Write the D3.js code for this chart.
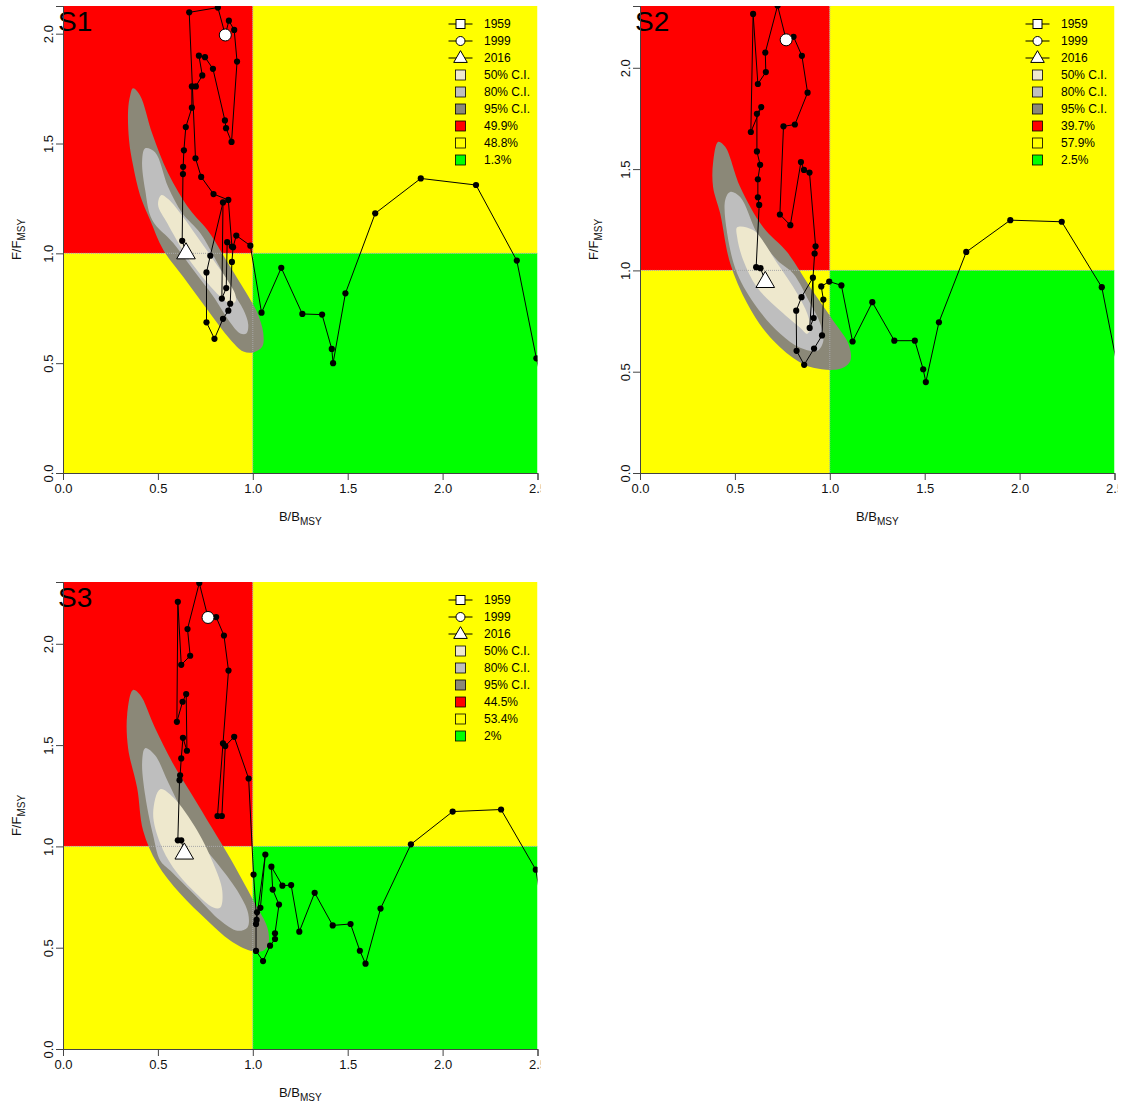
<!DOCTYPE html>
<html>
<head>
<meta charset="utf-8">
<script src="https://cdn.jsdelivr.net/npm/d3@7"></script>
<style>
  body { margin: 0; background: #ffffff; }
  svg { display: block; }
</style>
</head>
<body>
<svg id="chart" width="1121" height="1108"></svg>
<script>
// ---- Kobe phase plots: B/Bmsy vs F/Fmsy for three scenarios ----

const scenarioNames = ["S1", "S2", "S3"];
const xTicks = [0, 0.5, 1, 1.5, 2, 2.5];
const yTicks = [0, 0.5, 1, 1.5, 2];
const xMax = 2.5;
const yMaxes = [2.126, 2.305, 2.305];

const legendYears = ["1959", "1999", "2016"];
const ciLabels = ["50% C.I.", "80% C.I.", "95% C.I."];
const pctS1 = ["49.9%", "48.8%", "1.3%"];
const pctS2 = ["39.7%", "57.9%", "2.5%"];
const pctS3 = ["44.5%", "53.4%", "2%"];

// Trajectories [B/Bmsy, F/Fmsy], first point 1959, last point 2016
const trajS1 = [
  [2.61,0.116],[2.494,0.522],[2.391,0.967],[2.176,1.311],[1.885,1.341],[1.645,1.182],[1.488,0.818],
  [1.423,0.500],[1.416,0.565],[1.365,0.721],[1.261,0.724],[1.150,0.934],[1.046,0.730],[0.987,1.035],
  [0.913,1.081],[0.896,1.028],[0.890,0.961],[0.881,0.771],[0.871,0.739],[0.843,0.702],[0.798,0.611],
  [0.756,0.686],[0.756,0.913],[0.776,0.989],[0.843,1.232],[0.837,0.794],[0.860,0.842],[0.865,1.051],
  [0.890,1.031],[0.871,1.243],[0.793,1.270],[0.728,1.348],[0.698,1.433],[0.665,2.097],[0.816,2.119],
  [0.855,1.994],
  [0.874,2.059],[0.902,2.017],[0.917,1.873],[0.888,1.507],[0.859,1.570],[0.853,1.605],[0.790,1.840],
  [0.748,1.893],[0.716,1.900],[0.734,1.810],[0.700,1.760],[0.679,1.760],[0.679,1.663],[0.647,1.575],
  [0.637,1.469],[0.633,1.394],[0.632,1.361],[0.628,1.057],[0.648,1.004]
];
const trajS2 = [
  [2.59,0.17],[2.433,0.917],[2.222,1.240],[1.951,1.248],[1.719,1.091],[1.575,0.744],[1.506,0.449],
  [1.492,0.512],[1.448,0.653],[1.340,0.653],[1.224,0.843],[1.120,0.649],[1.061,0.926],[0.997,0.945],
  [0.955,0.921],[0.966,0.856],[0.959,0.679],[0.917,0.614],[0.865,0.534],[0.825,0.603],[0.823,0.801],
  [0.851,0.868],[0.911,0.964],[0.915,0.765],[0.894,0.716],[0.920,1.083],[0.925,1.119],[0.893,1.483],
  [0.864,1.496],[0.848,1.535],[0.792,1.223],[0.737,1.276],[0.756,1.711],[0.816,1.720],[0.883,1.877],
  [0.853,2.059],[0.809,2.153],
  [0.770,2.138],
  [0.725,2.307],[0.660,2.075],[0.663,1.979],[0.621,1.920],[0.596,2.266],[0.584,1.683],[0.639,1.806],
  [0.616,1.773],[0.616,1.587],[0.633,1.521],[0.621,1.450],[0.621,1.361],[0.628,1.323],[0.612,1.016],
  [0.635,1.011],[0.660,0.947]
];
const trajS3 = [
  [2.62,0.17],[2.491,0.885],[2.308,1.182],[2.053,1.172],[1.833,1.010],[1.673,0.693],[1.594,0.421],
  [1.564,0.485],[1.515,0.617],[1.421,0.610],[1.326,0.771],[1.245,0.579],[1.202,0.809],[1.156,0.806],
  [1.098,0.900],[1.105,0.787],[1.138,0.713],[1.117,0.571],[1.117,0.543],[1.091,0.510],[1.054,0.434],
  [1.017,0.484],[1.017,0.617],[1.066,0.960],[1.040,0.697],[1.022,0.675],[1.020,0.637],[1.004,0.861],
  [0.978,1.335],[0.902,1.541],[0.855,1.495],[0.837,1.150],[0.814,1.150],[0.843,1.508],[0.872,1.868],
  [0.848,2.041],[0.807,2.132],
  [0.764,2.130],
  [0.718,2.300],[0.656,2.073],[0.670,1.941],[0.623,1.896],[0.605,2.207],[0.600,1.615],[0.630,1.714],
  [0.649,1.752],[0.653,1.472],[0.632,1.536],[0.623,1.434],[0.617,1.351],[0.614,1.327],[0.605,1.030],
  [0.623,1.030],[0.639,0.969]
];
// position of the 1999 point in each trajectory
const idx1999 = [35, 37, 37];

// Credible-region outlines of the final year [B/Bmsy, F/Fmsy]
const ci95S1 = [[0.369,1.751],[0.406,1.719],[0.470,1.546],[0.554,1.365],[0.670,1.197],[0.760,1.107],[0.881,0.939],
  [0.987,0.789],[1.024,0.730],[1.055,0.639],[1.050,0.576],[1.003,0.549],[0.950,0.553],[0.881,0.608],[0.760,0.744],
  [0.633,0.893],[0.528,1.016],[0.459,1.152],[0.406,1.265],[0.369,1.401],[0.348,1.515],[0.343,1.651],[0.354,1.719]];
const ci80S1 = [[0.433,1.478],[0.485,1.460],[0.554,1.302],[0.628,1.184],[0.723,1.093],[0.813,0.957],[0.897,0.821],
  [0.950,0.744],[0.976,0.676],[0.966,0.635],[0.934,0.635],[0.881,0.685],[0.792,0.803],[0.686,0.925],[0.580,1.048],
  [0.470,1.152],[0.433,1.288],[0.417,1.424]];
const ci50S1 = [[0.517,1.265],[0.554,1.247],[0.633,1.166],[0.707,1.075],[0.792,0.971],[0.865,0.880],[0.908,0.812],
  [0.908,0.780],[0.881,0.771],[0.829,0.803],[0.760,0.866],[0.654,0.984],[0.549,1.138],[0.501,1.220]];

const ci95S2 = [[0.412,1.635],[0.449,1.610],[0.528,1.412],[0.649,1.213],[0.776,1.089],[0.897,0.916],[1.018,0.752],
  [1.098,0.638],[1.108,0.553],[1.055,0.514],[0.913,0.519],[0.807,0.568],[0.670,0.687],[0.565,0.836],[0.475,1.035],
  [0.422,1.283],[0.385,1.412],[0.385,1.531]];
const ci80S2 = [[0.475,1.387],[0.528,1.362],[0.617,1.184],[0.723,1.050],[0.807,0.985],[0.897,0.836],[0.950,0.737],
  [0.966,0.653],[0.934,0.603],[0.844,0.618],[0.739,0.687],[0.617,0.816],[0.512,0.985],[0.459,1.184],[0.449,1.347]];
const ci50S2 = [[0.512,1.213],[0.596,1.199],[0.723,1.035],[0.828,0.886],[0.881,0.787],[0.897,0.717],[0.881,0.687],
  [0.844,0.717],[0.739,0.801],[0.617,0.916],[0.544,1.050],[0.512,1.164]];

const ci95S3 = [[0.369,1.772],[0.406,1.748],[0.485,1.584],[0.575,1.416],[0.681,1.252],[0.786,1.089],[0.881,0.941],
  [1.003,0.733],[1.077,0.599],[1.082,0.520],[1.055,0.485],[0.987,0.485],[0.881,0.535],[0.760,0.634],[0.617,0.767],
  [0.496,0.916],[0.422,1.079],[0.391,1.287],[0.343,1.485],[0.338,1.649]];
const ci80S3 = [[0.433,1.485],[0.485,1.450],[0.554,1.317],[0.660,1.119],[0.749,0.990],[0.813,0.916],[0.918,0.782],
  [0.976,0.668],[0.971,0.599],[0.918,0.584],[0.829,0.634],[0.707,0.748],[0.565,0.881],[0.512,0.931],[0.475,1.054],
  [0.433,1.252],[0.417,1.416]];
const ci50S3 = [[0.512,1.282],[0.580,1.243],[0.707,1.079],[0.792,0.916],[0.839,0.782],[0.829,0.698],[0.792,0.698],
  [0.686,0.782],[0.580,0.896],[0.512,1.015],[0.475,1.163]];

// ---- styling ----
const FONT = "'Liberation Sans', Arial, Helvetica, sans-serif";
const zoneColors = { red: "#FF0000", yellow: "#FFFF00", green: "#00FF00" };
const ciFill = { c95: "#8B8878", c80: "#BEBEBE", c50: "#EEE8CD" };

const W = 474.5, H = 467;
const panels = [
  { name: scenarioNames[0], left: 63,  top: 6,   yMax: yMaxes[0], traj: trajS1, i99: idx1999[0], ci: [ci95S1, ci80S1, ci50S1], pct: pctS1 },
  { name: scenarioNames[1], left: 640, top: 6,   yMax: yMaxes[1], traj: trajS2, i99: idx1999[1], ci: [ci95S2, ci80S2, ci50S2], pct: pctS2 },
  { name: scenarioNames[2], left: 63,  top: 582, yMax: yMaxes[2], traj: trajS3, i99: idx1999[2], ci: [ci95S3, ci80S3, ci50S3], pct: pctS3 }
];

const svg = d3.select("#chart");
svg.append("rect").attr("width", 1121).attr("height", 1108).attr("fill", "#fff");
const defs = svg.append("defs");

panels.forEach((p, pi) => {
  const x = d3.scaleLinear().domain([0, xMax]).range([0, W]);
  const y = d3.scaleLinear().domain([0, p.yMax]).range([H, 0]);

  const g = svg.append("g").attr("transform", `translate(${p.left},${p.top})`);

  defs.append("clipPath").attr("id", `plot${pi}`)
    .append("rect").attr("x", 0).attr("y", 0).attr("width", W).attr("height", H);
  defs.append("clipPath").attr("id", `panel${pi}`)
    .append("rect").attr("x", -80).attr("y", -20).attr("width", W + 83).attr("height", H + 90);

  const outer = g.append("g").attr("clip-path", `url(#panel${pi})`);
  const plot = outer.append("g").attr("clip-path", `url(#plot${pi})`);

  // status quadrants
  const zones = [
    { b: [0, 1],    f: [1, p.yMax], c: zoneColors.red },
    { b: [0, 1],    f: [0, 1],      c: zoneColors.yellow },
    { b: [1, xMax], f: [1, p.yMax], c: zoneColors.yellow },
    { b: [1, xMax], f: [0, 1],      c: zoneColors.green }
  ];
  plot.selectAll("rect.zone").data(zones).join("rect")
    .attr("class", "zone")
    .attr("x", d => x(d.b[0])).attr("y", d => y(d.f[1]))
    .attr("width", d => x(d.b[1]) - x(d.b[0]))
    .attr("height", d => y(d.f[0]) - y(d.f[1]))
    .attr("fill", d => d.c);

  // credible regions
  const area = d3.line().x(d => x(d[0])).y(d => y(d[1])).curve(d3.curveCatmullRomClosed.alpha(0.5));
  const fills = [ciFill.c95, ciFill.c80, ciFill.c50];
  p.ci.forEach((poly, k) => {
    plot.append("path").attr("d", area(poly)).attr("fill", fills[k]).attr("stroke", "none");
  });

  // reference lines at B = Bmsy and F = Fmsy
  plot.append("line").attr("x1", x(1)).attr("x2", x(1)).attr("y1", 0).attr("y2", H)
    .attr("stroke", "#a8a8a8").attr("stroke-width", 1).attr("stroke-dasharray", "1 1");
  plot.append("line").attr("x1", 0).attr("x2", W).attr("y1", y(1)).attr("y2", y(1))
    .attr("stroke", "#a8a8a8").attr("stroke-width", 1).attr("stroke-dasharray", "1 1");

  // trajectory
  const path = d3.line().x(d => x(d[0])).y(d => y(d[1]));
  plot.append("path").attr("d", path(p.traj)).attr("fill", "none")
    .attr("stroke", "#000").attr("stroke-width", 1);
  plot.selectAll("circle.yr").data(p.traj).join("circle")
    .attr("class", "yr")
    .attr("cx", d => x(d[0])).attr("cy", d => y(d[1])).attr("r", 3.1)
    .attr("fill", "#000");

  // first, 1999 and last year markers
  const first = p.traj[0], mid = p.traj[p.i99], last = p.traj[p.traj.length - 1];
  plot.append("rect").attr("x", x(first[0]) - 6).attr("y", y(first[1]) - 6)
    .attr("width", 12).attr("height", 12).attr("fill", "#fff").attr("stroke", "#000");
  plot.append("circle").attr("cx", x(mid[0])).attr("cy", y(mid[1])).attr("r", 6)
    .attr("fill", "#fff").attr("stroke", "#000").attr("stroke-width", 1);
  const tri = d3.symbol().type(d3.symbolTriangle).size(150);
  plot.append("path").attr("d", tri())
    .attr("transform", `translate(${x(last[0])},${y(last[1]) + 1})`)
    .attr("fill", "#fff").attr("stroke", "#000").attr("stroke-width", 1);

  // scenario tag
  outer.append("text").attr("x", -5).attr("y", 25)
    .attr("font-family", FONT).attr("font-size", 28).attr("fill", "#000")
    .text(p.name);

  // legend
  const lg = outer.append("g").attr("transform", `translate(${W - 77},18)`)
    .attr("font-family", FONT).attr("font-size", 12);
  const rows = [];
  legendYears.forEach((t, i) => rows.push({ type: "year", k: i, label: t }));
  ciLabels.forEach((t, i) => rows.push({ type: "fill", c: [ciFill.c50, ciFill.c80, ciFill.c95][i], label: t }));
  p.pct.forEach((t, i) => rows.push({ type: "fill", c: [zoneColors.red, zoneColors.yellow, zoneColors.green][i], label: t }));
  rows.forEach((r, i) => {
    const ry = i * 17;
    if (r.type === "year") {
      lg.append("line").attr("x1", -12).attr("x2", 12).attr("y1", ry).attr("y2", ry)
        .attr("stroke", "#000").attr("stroke-width", 1);
      if (r.k === 0) {
        lg.append("rect").attr("x", -4.5).attr("y", ry - 4.5).attr("width", 9).attr("height", 9)
          .attr("fill", "#fff").attr("stroke", "#000");
      } else if (r.k === 1) {
        lg.append("circle").attr("cx", 0).attr("cy", ry).attr("r", 4.5)
          .attr("fill", "#fff").attr("stroke", "#000");
      } else {
        lg.append("path").attr("d", d3.symbol().type(d3.symbolTriangle).size(80)())
          .attr("transform", `translate(0,${ry + 0.5})`)
          .attr("fill", "#fff").attr("stroke", "#000");
      }
    } else {
      lg.append("rect").attr("x", -5).attr("y", ry - 5).attr("width", 10).attr("height", 10)
        .attr("fill", r.c).attr("stroke", "#000").attr("stroke-width", 0.8);
    }
    lg.append("text").attr("x", 23.5).attr("y", ry).attr("dy", "0.36em")
      .attr("fill", "#000").text(r.label);
  });

  // axes
  const gx = outer.append("g").attr("transform", `translate(0,${H})`)
    .call(d3.axisBottom(x).tickValues(xTicks).tickSize(7).tickPadding(4).tickFormat(d3.format(".1f")));
  gx.attr("font-family", FONT).attr("font-size", 13);
  gx.select(".domain").attr("stroke", "#444");
  gx.selectAll(".tick line").attr("stroke", "#444");
  gx.selectAll(".tick text").attr("fill", "#111");

  const gy = outer.append("g")
    .call(d3.axisLeft(y).tickValues(yTicks).tickSize(7).tickFormat(d3.format(".1f")));
  gy.attr("font-family", FONT).attr("font-size", 13);
  gy.select(".domain").attr("stroke", "#444");
  gy.selectAll(".tick line").attr("stroke", "#444");
  gy.selectAll(".tick text").attr("fill", "#111")
    .attr("x", null).attr("dy", null)
    .attr("text-anchor", "middle")
    .attr("transform", "translate(-10,0) rotate(-90)");

  // axis titles
  const xt = outer.append("text").attr("x", W / 2).attr("y", H + 48)
    .attr("text-anchor", "middle").attr("font-family", FONT).attr("font-size", 13).attr("fill", "#111");
  xt.append("tspan").text("B/B");
  xt.append("tspan").attr("font-size", 10).attr("dy", 4).text("MSY");

  const yt = outer.append("text")
    .attr("transform", `translate(-42,${H / 2}) rotate(-90)`)
    .attr("text-anchor", "middle").attr("font-family", FONT).attr("font-size", 13).attr("fill", "#111");
  yt.append("tspan").text("F/F");
  yt.append("tspan").attr("font-size", 10).attr("dy", 4).text("MSY");
});
</script>
</body>
</html>
